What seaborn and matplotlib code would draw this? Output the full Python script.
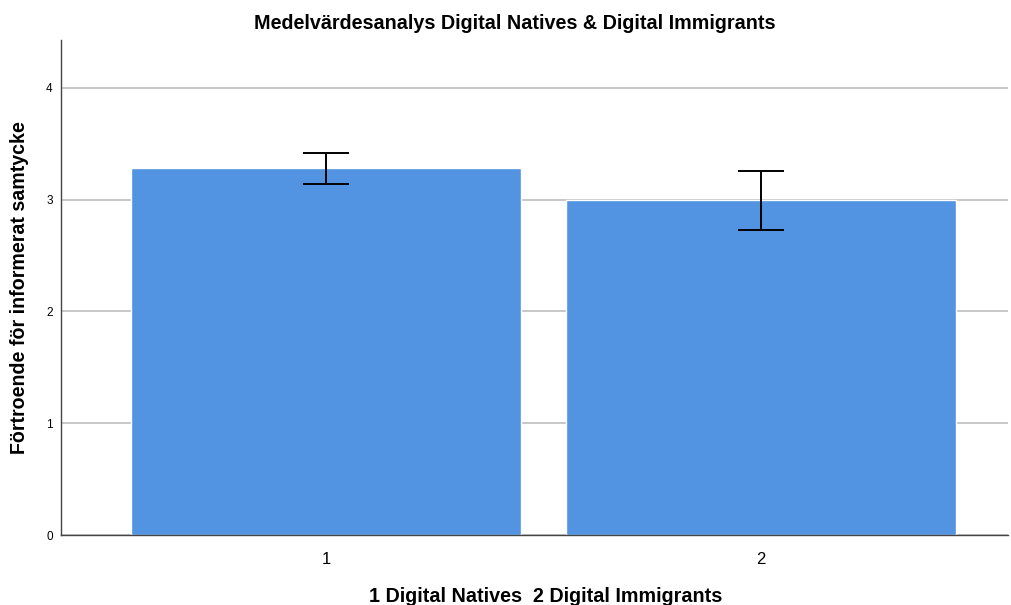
import matplotlib
matplotlib.use("Agg")
import matplotlib.pyplot as plt
import seaborn as sns
import pandas as pd
import numpy as np

categories = ["1", "2"]
means = [3.28, 3.00]
err_low = [3.14, 2.73]
err_high = [3.42, 3.26]

title = "Medelvärdesanalys Digital Natives & Digital Immigrants"
xlabel = "1 Digital Natives  2 Digital Immigrants"
ylabel = "Förtroende för informerat samtycke"
yticks = [0, 1, 2, 3, 4]

sns.set_theme(style="white")
plt.rcParams['font.family'] = ['Liberation Sans', 'DejaVu Sans']
plt.rcParams['text.color'] = 'black'
plt.rcParams['axes.labelcolor'] = 'black'
plt.rcParams['xtick.color'] = 'black'
plt.rcParams['ytick.color'] = 'black'

fig = plt.figure(figsize=(10.11, 6.05), dpi=100)
ax = fig.add_axes([0.0603, 0.1157, 0.9367, 0.8183])

df = pd.DataFrame({"cat": categories, "mean": means})
sns.barplot(data=df, x="cat", y="mean", color="#5294E2", saturation=1,
            width=0.897, errorbar=None, ax=ax, zorder=2)

lo = np.array(means) - np.array(err_low)
hi = np.array(err_high) - np.array(means)
ax.errorbar(np.arange(len(categories)), means, yerr=[lo, hi], fmt="none",
            ecolor="black", elinewidth=1.4, capsize=16.5, capthick=1.4, zorder=3)

ax.set_xlim(-0.609, 1.568)
ax.set_ylim(0, 4.43)
ax.set_yticks(yticks)
ax.set_yticklabels([str(t) for t in yticks], fontsize=8.5)
ax.tick_params(axis="x", labelsize=12, length=0, pad=12)
ax.tick_params(axis="y", length=0, pad=6)
ax.yaxis.grid(True, color="#bdbdbd", linewidth=1.2, zorder=0)
ax.set_axisbelow(True)

for s in ["top", "right"]:
    ax.spines[s].set_visible(False)
for s in ["left", "bottom"]:
    ax.spines[s].set_color("#444444")
    ax.spines[s].set_linewidth(1.0)

ax.set_title(title, fontsize=14.2, fontweight="bold", pad=8, x=0.479)
ax.set_xlabel(xlabel, fontsize=14.2, fontweight="bold", labelpad=16)
ax.xaxis.set_label_coords(0.512, -0.105)
ax.set_ylabel(ylabel, fontsize=14.1, fontweight="bold", labelpad=12)

fig.savefig("out.png", dpi=100)
